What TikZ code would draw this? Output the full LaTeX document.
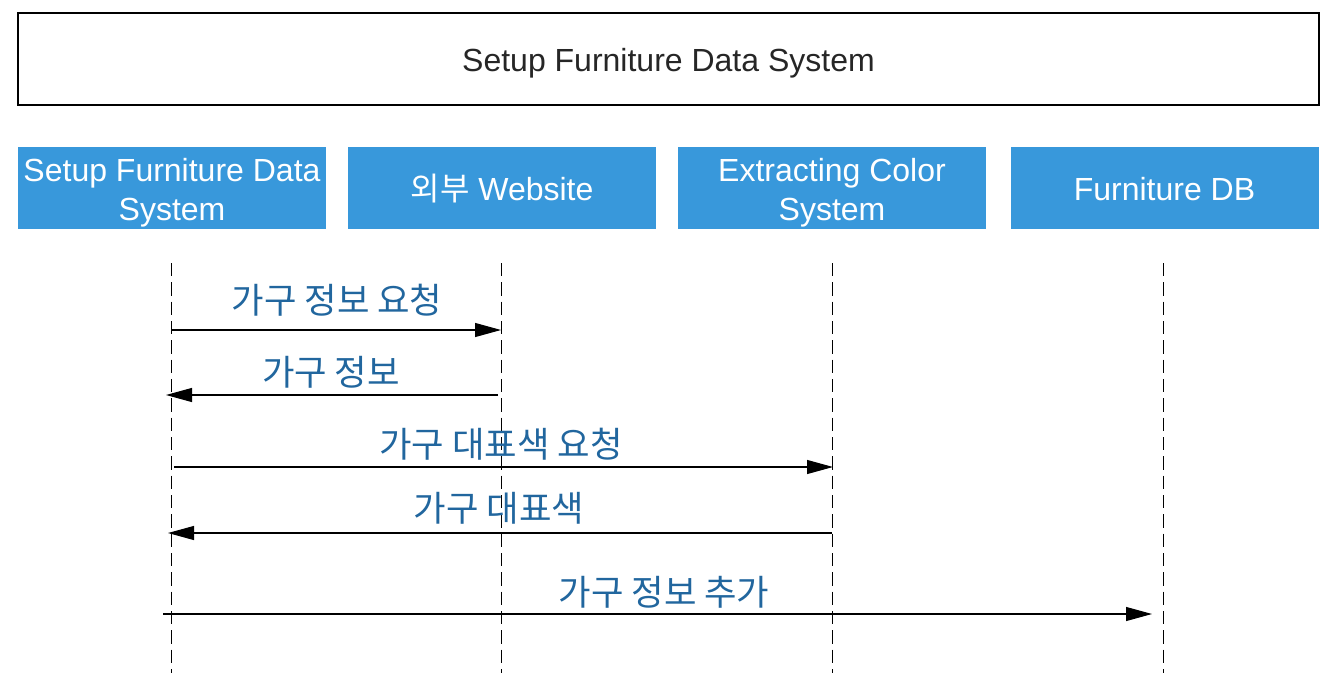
\documentclass[tikz,border=0pt]{standalone}
\usepackage{fontspec}
\setmainfont{Liberation Sans}
\newfontfamily\kofont{Noto Sans CJK KR}
\usetikzlibrary{arrows.meta}
\definecolor{lanefill}{HTML}{3898DB}
\definecolor{msgtext}{HTML}{21669E}
\tikzset{
  x=0.75pt, y=-0.75pt,
  titlebox/.style={draw=black, line width=0.9pt, minimum width=975.75pt, minimum height=69pt, inner sep=0pt},
  titletext/.style={inner sep=0pt, font=\fontsize{24}{29}\selectfont, text=black!85},
  actorbox/.style={fill=lanefill, minimum width=231pt, minimum height=61.5pt, inner sep=0pt},
  actortext/.style={inner sep=0pt, align=center, text=white, font=\fontsize{24}{29}\selectfont},
  lifeline/.style={black, line width=0.7pt, dash pattern=on 10pt off 4.5pt},
  msg/.style={black, line width=0.8pt, -{Triangle[length=19.5pt,width=10.5pt]}},
  msglabel/.style={text=msgtext, font=\kofont\fontsize{26.5}{31}\selectfont, inner sep=0pt},
}
\begin{document}
\begin{tikzpicture}
\useasboundingbox (0,0) rectangle (1337,699);

% system frame
\node[titlebox] (title) at (668.5,59) {};
\node[titletext] (titleTxt) at (668.5,63) {Setup Furniture Data System};

% participants
\node[actorbox] (a) at (172,188) {};
\node[actorbox] (b) at (502,188) {};
\node[actorbox] (c) at (832,188) {};
\node[actorbox] (d) at (1164.5,188) {};
\node[actortext] (aTxt) at (172,193) {Setup Furniture Data\\System};
\node[actortext] (bTxt) at (502,189) {{\kofont 외부} Website};
\node[actortext] (cTxt) at (832,193) {Extracting Color\\System};
\node[actortext] (dTxt) at (1164.5,189) {Furniture DB};

% lifelines
\coordinate (aTop) at (171,263); \coordinate (aBot) at (171,673);
\coordinate (bTop) at (501,263); \coordinate (bBot) at (501,673);
\coordinate (cTop) at (832,263); \coordinate (cBot) at (832,673);
\coordinate (dTop) at (1163,263); \coordinate (dBot) at (1163,673);
\draw[lifeline] (aTop) -- (aBot);
\draw[lifeline] (bTop) -- (bBot);
\draw[lifeline] (cTop) -- (cBot);
\draw[lifeline] (dTop) -- (dBot);

% messages
\coordinate (m1s) at (171,330); \coordinate (m1e) at (501,330);
\draw[msg] (m1s) -- (m1e);
\node[msglabel] (l1) at (337,300) {가구 정보 요청};

\coordinate (m2s) at (498,395); \coordinate (m2e) at (166,395);
\draw[msg] (m2s) -- (m2e);
\node[msglabel] (l2) at (331,372) {가구 정보};

\coordinate (m3s) at (174,467); \coordinate (m3e) at (833,467);
\draw[msg] (m3s) -- (m3e);
\node[msglabel] (l3) at (501,444) {가구 대표색 요청};

\coordinate (m4s) at (832,533); \coordinate (m4e) at (168,533);
\draw[msg] (m4s) -- (m4e);
\node[msglabel] (l4) at (499,508) {가구 대표색};

\coordinate (m5s) at (163,614); \coordinate (m5e) at (1152,614);
\draw[msg] (m5s) -- (m5e);
\node[msglabel] (l5) at (664,592) {가구 정보 추가};
\end{tikzpicture}
\end{document}
